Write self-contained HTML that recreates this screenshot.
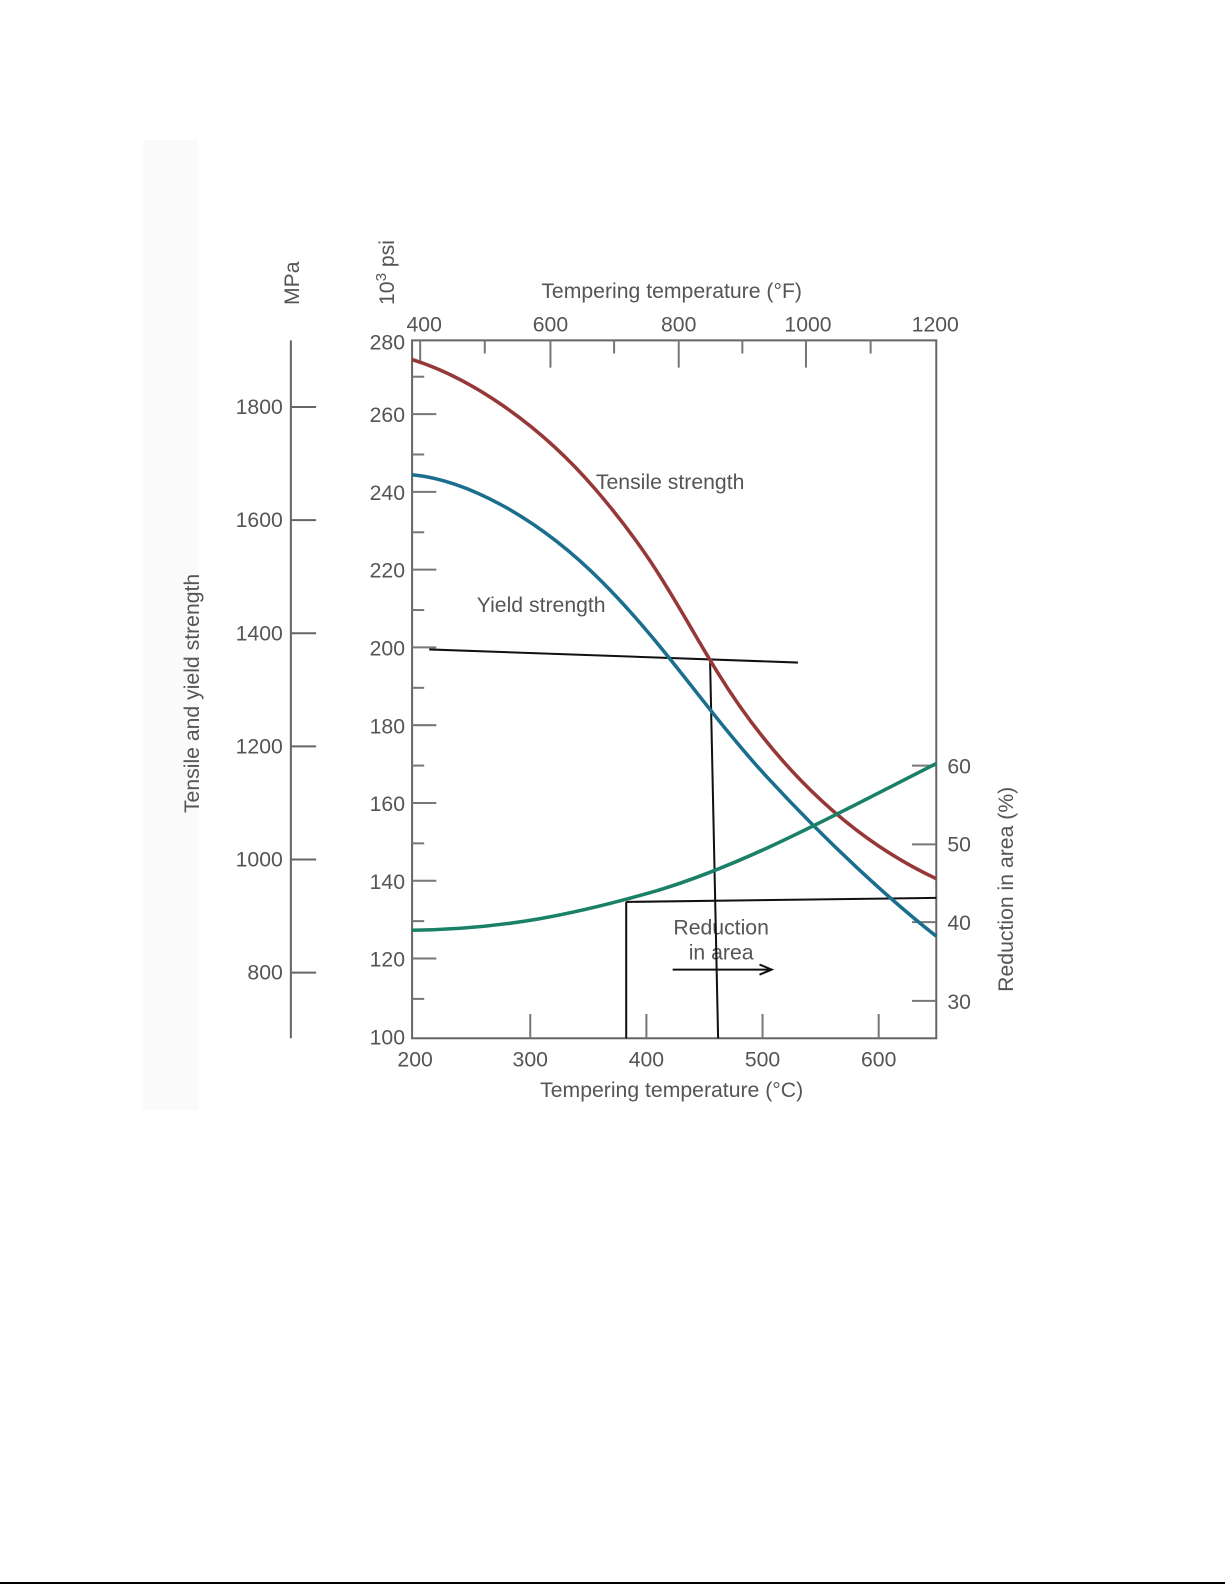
<!DOCTYPE html>
<html><head><meta charset="utf-8"><style>
html,body{margin:0;padding:0;background:#fff;}
svg{display:block;}
text{font-family:"Liberation Sans",sans-serif;fill:#555;font-size:21px;}
</style></head><body>
<svg width="1225" height="1585" viewBox="0 0 1225 1585" xmlns="http://www.w3.org/2000/svg">
<rect x="0" y="0" width="1225" height="1585" fill="#fff"/>
<rect x="143" y="140" width="55" height="970" fill="#fafafa"/>
<line x1="0" y1="1583" x2="1225" y2="1583" stroke="#000" stroke-width="2"/>
<g transform="scale(1.01)">
<g stroke="#666" stroke-width="2">
<line x1="288" y1="337" x2="288" y2="1028"/>
<line x1="288" y1="403" x2="313" y2="403"/>
<line x1="288" y1="515" x2="313" y2="515"/>
<line x1="288" y1="627" x2="313" y2="627"/>
<line x1="288" y1="739" x2="313" y2="739"/>
<line x1="288" y1="851" x2="313" y2="851"/>
<line x1="288" y1="963" x2="313" y2="963"/>
</g>
<g text-anchor="end">
<text x="280" y="410">1800</text><text x="280" y="522">1600</text><text x="280" y="634">1400</text>
<text x="280" y="746">1200</text><text x="280" y="858">1000</text><text x="280" y="970">800</text>
</g>
<text transform="translate(296,302) rotate(-90)">MPa</text>
<text transform="translate(197,805) rotate(-90)">Tensile and yield strength</text>
<text transform="translate(390,302) rotate(-90)">10<tspan dy="-8" font-size="15">3</tspan><tspan dy="8"> psi</tspan></text>
<rect x="408" y="337" width="519" height="691" fill="none" stroke="#666" stroke-width="2"/>
<g stroke="#777" stroke-width="2">
<line x1="408" y1="410" x2="432" y2="410"/><line x1="408" y1="487" x2="432" y2="487"/>
<line x1="408" y1="564" x2="432" y2="564"/><line x1="408" y1="641" x2="432" y2="641"/>
<line x1="408" y1="718" x2="432" y2="718"/><line x1="408" y1="795" x2="432" y2="795"/>
<line x1="408" y1="872" x2="432" y2="872"/><line x1="408" y1="949" x2="432" y2="949"/>
<line x1="408" y1="373" x2="420" y2="373"/><line x1="408" y1="450" x2="420" y2="450"/>
<line x1="408" y1="527" x2="420" y2="527"/><line x1="408" y1="604" x2="420" y2="604"/>
<line x1="408" y1="681" x2="420" y2="681"/><line x1="408" y1="758" x2="420" y2="758"/>
<line x1="408" y1="835" x2="420" y2="835"/><line x1="408" y1="912" x2="420" y2="912"/>
<line x1="408" y1="989" x2="420" y2="989"/>
<line x1="416" y1="337" x2="416" y2="360"/><line x1="480" y1="337" x2="480" y2="350"/>
<line x1="545" y1="337" x2="545" y2="364"/><line x1="608" y1="337" x2="608" y2="350"/>
<line x1="672" y1="337" x2="672" y2="364"/><line x1="735" y1="337" x2="735" y2="350"/>
<line x1="798" y1="337" x2="798" y2="364"/><line x1="862" y1="337" x2="862" y2="350"/>
<line x1="525" y1="1028" x2="525" y2="1004"/><line x1="640" y1="1028" x2="640" y2="1004"/>
<line x1="755" y1="1028" x2="755" y2="1004"/><line x1="870" y1="1028" x2="870" y2="1004"/>
<line x1="903" y1="758" x2="927" y2="758"/><line x1="903" y1="836" x2="927" y2="836"/>
<line x1="903" y1="913" x2="927" y2="913"/><line x1="903" y1="991" x2="927" y2="991"/>
</g>
<g text-anchor="end">
<text x="401" y="346">280</text><text x="401" y="418">260</text><text x="401" y="495">240</text>
<text x="401" y="572">220</text><text x="401" y="649">200</text><text x="401" y="726">180</text>
<text x="401" y="803">160</text><text x="401" y="880">140</text><text x="401" y="957">120</text>
<text x="401" y="1034">100</text>
</g>
<g text-anchor="middle">
<text x="420" y="328">400</text><text x="545" y="328">600</text><text x="672" y="328">800</text>
<text x="800" y="328">1000</text><text x="926" y="328">1200</text>
<text x="665" y="295">Tempering temperature (°F)</text>
<text x="411" y="1056">200</text><text x="525" y="1056">300</text><text x="640" y="1056">400</text>
<text x="755" y="1056">500</text><text x="870" y="1056">600</text>
<text x="665" y="1086">Tempering temperature (°C)</text>
<text x="714" y="925">Reduction</text><text x="714" y="950">in area</text>
</g>
<text x="938" y="766">60</text><text x="938" y="843">50</text><text x="938" y="921">40</text><text x="938" y="999">30</text>
<text transform="translate(1003,982) rotate(-90)">Reduction in area (%)</text>
<text x="590" y="484">Tensile strength</text>
<text x="472" y="606">Yield strength</text>
<g stroke="#111" stroke-width="2" fill="none">
<line x1="425" y1="643" x2="790" y2="656"/>
<line x1="703" y1="652" x2="711" y2="1028"/>
<line x1="620" y1="893" x2="927" y2="889"/>
<line x1="620" y1="893" x2="620" y2="1028"/>
<line x1="666" y1="960" x2="762" y2="960"/>
<path d="M752 955 L764 960 L752 965"/>
</g>
<path d="M408 356 C460 372 530 415 590 485 S670 600 710 665 S820 820 927 870" fill="none" stroke="#973838" stroke-width="3.5"/>
<path d="M408 470 C460 475 530 510 595 575 S700 705 760 770 S880 890 927 927" fill="none" stroke="#1a6e8e" stroke-width="3.5"/>
<path d="M408 921 C500 920 570 905 650 882 C740 855 830 805 927 756" fill="none" stroke="#1a8068" stroke-width="3.5"/>
</g>
</svg>
</body></html>
